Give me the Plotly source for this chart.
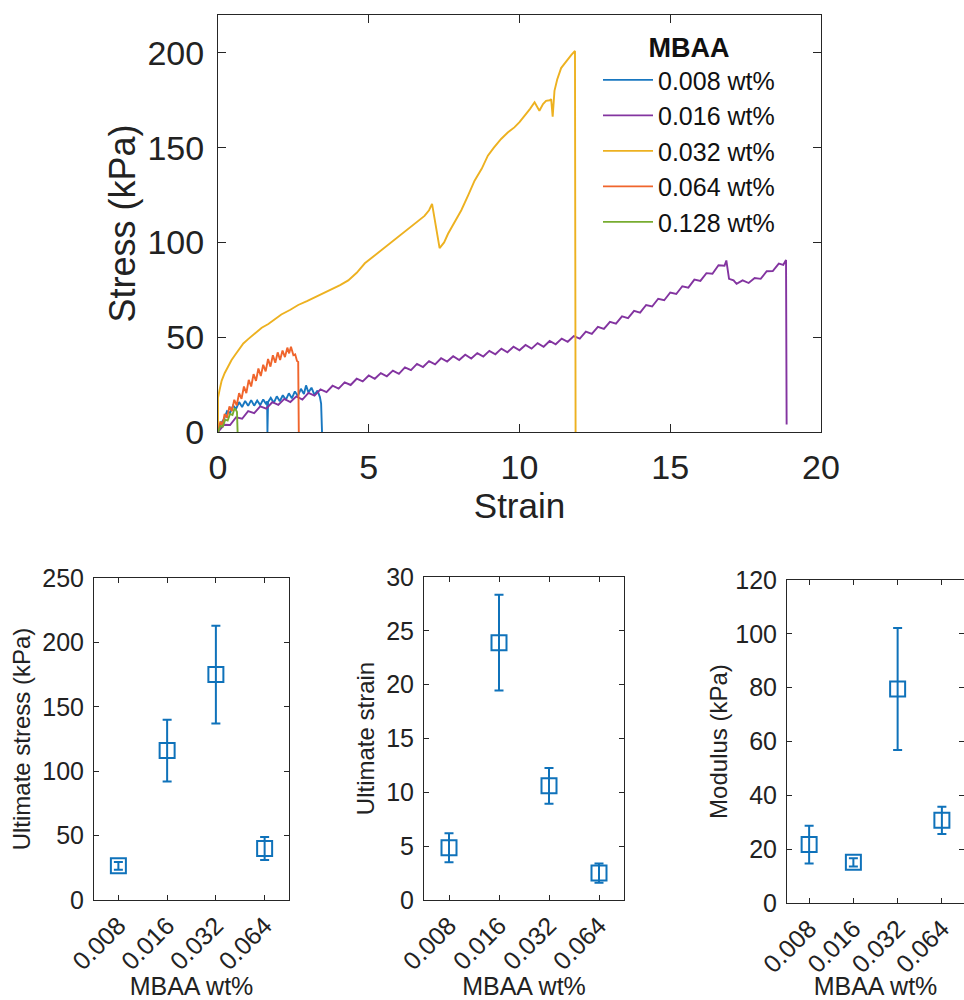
import plotly.graph_objects as go

# ---------------- Top panel: stress-strain curves ----------------
series_labels = ["0.008 wt%", "0.016 wt%", "0.032 wt%", "0.064 wt%", "0.128 wt%"]
series_colors = ["#1877c0", "#8334a0", "#edb120", "#f0652c", "#77ac30"]

strain_008 = [0, 0.1, 0.2, 0.3, 0.4, 0.5, 0.6, 0.7, 0.8, 0.9, 1.0, 1.1, 1.2, 1.3, 1.4, 1.5, 1.6,
              1.63, 1.64, 1.66, 1.75, 1.85, 1.95, 2.05, 2.15, 2.25, 2.35, 2.45, 2.55, 2.65, 2.75,
              2.85, 2.92, 3.0, 3.1, 3.2, 3.3, 3.38, 3.42, 3.45]
stress_008 = [0, 4.5, 6.8, 11.0, 10.0, 14.0, 12.2, 15.8, 13.2, 16.4, 13.8, 16.8, 13.9, 16.6, 14.2, 17.2, 14.6,
              16.2, 0, 15.8, 18.0, 15.4, 18.8, 16.2, 19.4, 17.0, 20.4, 17.8, 21.4, 19.0, 22.8,
              20.0, 24.6, 20.8, 23.4, 19.6, 21.8, 18.4, 15.0, 0]

strain_016 = [0, 0.2, 0.4, 0.6, 0.8, 1.0, 1.2, 1.4, 1.6, 1.8, 2.0, 2.2, 2.4, 2.6, 2.8, 3.0, 3.2, 3.4,
              3.6, 3.8, 4.0, 4.2, 4.4, 4.6, 4.8, 5.0, 5.2, 5.4, 5.6, 5.8, 6.0, 6.2, 6.4, 6.6, 6.8,
              7.0, 7.2, 7.4, 7.6, 7.8, 8.0, 8.2, 8.4, 8.6, 8.8, 9.0, 9.2, 9.4, 9.6, 9.8, 10.0,
              10.2, 10.4, 10.6, 10.8, 11.0, 11.2, 11.4, 11.6, 11.8, 12.0, 12.2, 12.4, 12.6, 12.8,
              13.0, 13.2, 13.4, 13.6, 13.8, 14.0, 14.2, 14.4, 14.6, 14.8, 15.0, 15.2, 15.4, 15.6,
              15.8, 16.0, 16.2, 16.4, 16.6, 16.8, 16.86, 16.95, 17.1, 17.2, 17.4, 17.6, 17.8, 18.0,
              18.2, 18.4, 18.6, 18.75, 18.84, 18.86]
stress_016 = [0, 3.8, 3.7, 7.8, 7.0, 11.0, 9.9, 13.5, 12.3, 15.7, 14.3, 17.5, 15.8, 18.8, 17.1, 20.6,
              19.2, 22.5, 21.0, 24.4, 22.9, 26.2, 24.8, 28.1, 26.7, 29.8, 28.1, 31.1, 29.4, 32.4,
              30.7, 34.1, 32.6, 35.9, 34.3, 37.4, 35.7, 38.9, 37.2, 40.0, 38.0, 40.8, 38.8, 41.6,
              39.8, 42.8, 41.0, 44.0, 42.1, 45.0, 43.1, 45.9, 44.0, 46.9, 45.0, 48.0, 46.3, 49.3,
              47.6, 50.6, 49.3, 53.0, 51.8, 55.5, 54.4, 58.1, 57.2, 61.0, 60.1, 63.9, 63.0, 67.0,
              66.2, 70.3, 69.5, 73.6, 72.8, 76.9, 76.2, 80.4, 79.7, 83.8, 83.5, 88.0, 87.7, 90.5,
              80.8, 80.0, 78.2, 80.0, 78.6, 81.2, 80.8, 84.8, 84.9, 88.8, 88.2, 90.8, 4.0]

strain_032 = [0, 0.0, 0.05, 0.12, 0.22, 0.34, 0.45, 0.56, 0.7, 0.84, 1.0, 1.23, 1.45, 1.67, 1.9,
              2.1, 2.4, 2.66, 2.95, 3.21, 3.5, 3.76, 4.05, 4.32, 4.6, 4.87, 5.15, 5.42, 5.7, 5.97,
              6.25, 6.52, 6.7, 6.85, 7.0, 7.1, 7.35, 7.5, 7.63, 7.85, 8.07, 8.3, 8.51, 8.75, 8.95,
              9.15, 9.39, 9.61, 9.83, 10.0, 10.17, 10.35, 10.5, 10.58, 10.66, 10.78, 10.88, 11.0,
              11.05, 11.1, 11.16, 11.25, 11.38, 11.5, 11.6, 11.72, 11.84, 11.86]
stress_032 = [0, 18, 22, 27, 31, 35, 38, 40.5, 43.5, 46.7, 49, 52, 55, 57, 59.5,
              62, 64.5, 67, 69, 71, 73, 75, 77.5, 80, 84, 89, 92.5, 96, 99.5, 103,
              106.5, 110, 112, 114, 117, 120.4, 97, 100, 104.6, 110.5, 117, 125, 132.6, 139, 145.8,
              150, 154.6, 158, 160.7, 163.5, 166.8, 170.5, 174, 172, 169.5, 173, 174.7, 175,
              175.6, 166.3, 180, 186, 192, 194.5, 196.7, 199, 201, 0]

strain_064 = [0, 0.08, 0.15, 0.22, 0.3, 0.38, 0.46, 0.54, 0.62, 0.7, 0.78, 0.86, 0.94, 1.02, 1.1,
              1.18, 1.26, 1.34, 1.42, 1.5, 1.58, 1.66, 1.74, 1.82, 1.9, 1.98, 2.06, 2.14, 2.22,
              2.3, 2.36, 2.42, 2.5, 2.56, 2.62, 2.66, 2.68]
stress_064 = [0, 5.5, 3.5, 9.5, 7.5, 13.5, 11.0, 17.0, 14.0, 20.5, 17.5, 24.0, 20.5, 27.5, 24.0,
              30.5, 27.0, 33.5, 29.5, 35.5, 32.0, 38.5, 34.5, 40.5, 36.5, 42.0, 38.0, 43.0, 39.5,
              44.5, 41.5, 45.0, 40.5, 41.0, 37.5, 37.0, 0]

strain_128 = [0, 0.08, 0.16, 0.24, 0.32, 0.4, 0.48, 0.55, 0.6, 0.63, 0.65]
stress_128 = [0, 3.2, 2.8, 6.5, 6.0, 9.5, 9.0, 12.5, 11.5, 10.5, 0]

curves_x = [strain_008, strain_016, strain_032, strain_064, strain_128]
curves_y = [stress_008, stress_016, stress_032, stress_064, stress_128]

# ---------------- Bottom panels: summary statistics ----------------
mbaa_levels = ["0.008", "0.016", "0.032", "0.064"]
ult_stress = [26.5, 116, 175, 40]
ult_stress_err = [3, 24, 38, 9]
ult_strain = [4.85, 23.9, 10.6, 2.5]
ult_strain_err = [1.35, 4.45, 1.65, 0.9]
modulus = [21.7, 15.1, 79.5, 30.7]
modulus_err = [7, 1.5, 22.7, 5.1]

FONT = "Liberation Sans, Arial, sans-serif"
AX_COLOR = "#262626"
BLUE = "#0f72ba"

fig = go.Figure()

for xs, ys, name, col in zip(curves_x, curves_y, series_labels, series_colors):
    fig.add_trace(go.Scatter(x=xs, y=ys, mode="lines", name=name,
                             line=dict(color=col, width=1.9),
                             xaxis="x", yaxis="y"))

panels = [
    (ult_stress, ult_stress_err, "x2", "y2"),
    (ult_strain, ult_strain_err, "x3", "y3"),
    (modulus, modulus_err, "x4", "y4"),
]
for vals, errs, xa, ya in panels:
    fig.add_trace(go.Scatter(
        x=mbaa_levels, y=vals, mode="markers", showlegend=False,
        marker=dict(symbol="square-open", size=15, color=BLUE, line=dict(width=2, color=BLUE)),
        error_y=dict(type="data", array=errs, visible=True, color=BLUE, thickness=2, width=4.5),
        xaxis=xa, yaxis=ya))

def axis_style(size, ticklen):
    return dict(showline=True, linecolor=AX_COLOR, linewidth=1, mirror="ticks",
                ticks="inside", ticklen=ticklen, tickcolor=AX_COLOR, tickwidth=1,
                showgrid=False, zeroline=False, automargin=False,
                tickfont=dict(family=FONT, size=size, color="#222222"))

top_x = axis_style(34, 8)
top_x.update(domain=[218/964, 821/964], range=[0, 20], tickvals=[0, 5, 10, 15, 20],
             ticklabelstandoff=5, anchor="y",
             title=dict(text="Strain", font=dict(family=FONT, size=35, color="#222222"), standoff=0))
top_y = axis_style(34, 8)
top_y.update(domain=[0.568, 0.985], range=[0, 220], tickvals=[0, 50, 100, 150, 200],
             ticklabelstandoff=6, anchor="x",
             title=dict(text="Stress (kPa)", font=dict(family=FONT, size=36, color="#222222"), standoff=0))

def bottom_x(dom, anchor):
    d = axis_style(25, 5)
    d.update(domain=dom, type="category", range=[-0.5, 3.5], tickangle=-45, anchor=anchor,
             title=dict(text="MBAA wt%", font=dict(family=FONT, size=25, color="#222222"), standoff=2))
    return d

def bottom_y(dom, anchor, rng, dtick, title, standoff=4):
    d = axis_style(25, 5)
    d.update(domain=dom, range=rng, dtick=dtick, tick0=0, anchor=anchor, ticklabelstandoff=4,
             title=dict(text=title, font=dict(family=FONT, size=24, color="#222222"), standoff=standoff))
    return d

fig.update_layout(
    width=964, height=1000,
    margin=dict(l=0, r=0, t=0, b=0, autoexpand=False),
    paper_bgcolor="white", plot_bgcolor="white",
    font=dict(family=FONT, color="#222222"),
    xaxis=top_x, yaxis=top_y,
    xaxis2=bottom_x([94/964, 289/964], "y2"),
    yaxis2=bottom_y([0.1, 0.422], "x2", [0, 250], 50, "Ultimate stress (kPa)"),
    xaxis3=bottom_x([424/964, 624/964], "y3"),
    yaxis3=bottom_y([0.1, 0.423], "x3", [0, 30], 5, "Ultimate strain"),
    xaxis4=bottom_x([787/964, 1.0], "y4"),
    yaxis4=bottom_y([0.097, 0.420], "x4", [0, 120], 20, "Modulus (kPa)", standoff=0),
    legend=dict(x=598/964, y=0.978, xanchor="left", yanchor="top",
                bgcolor="rgba(0,0,0,0)", borderwidth=0, itemwidth=50,
                font=dict(family=FONT, size=25, color="#111111"),
                title=dict(text="<b>MBAA</b>", side="top center",
                           font=dict(family=FONT, size=27, color="#111111"))),
    showlegend=True,
)

fig.write_html("out.html")
